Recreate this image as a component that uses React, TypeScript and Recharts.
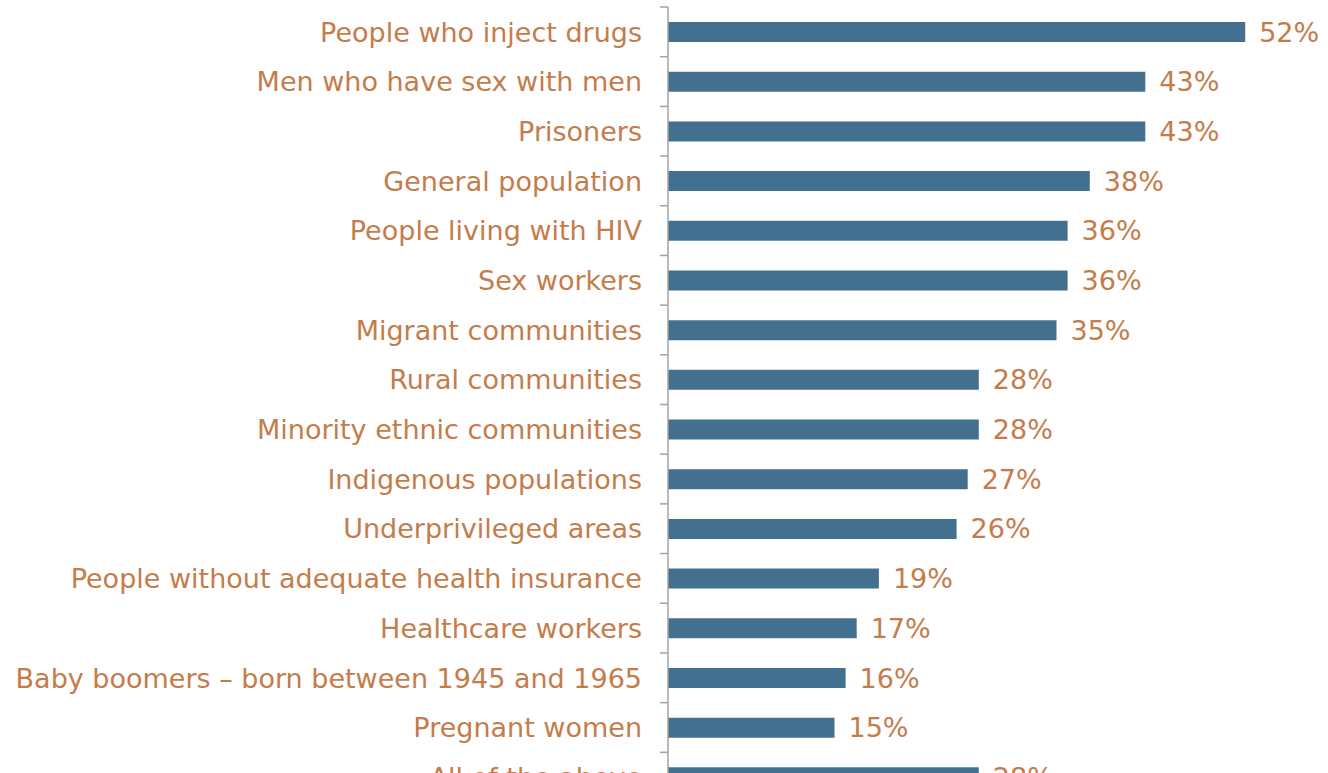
import { BarChart, Bar, XAxis, YAxis, LabelList } from "recharts"

const groups = [
  "People who inject drugs",
  "Men who have sex with men",
  "Prisoners",
  "General population",
  "People living with HIV",
  "Sex workers",
  "Migrant communities",
  "Rural communities",
  "Minority ethnic communities",
  "Indigenous populations",
  "Underprivileged areas",
  "People without adequate health insurance",
  "Healthcare workers",
  "Baby boomers – born between 1945 and 1965",
  "Pregnant women",
  "All of the above",
]

const shares = [52, 43, 43, 38, 36, 36, 35, 28, 28, 27, 26, 19, 17, 16, 15, 28]

const rows = groups.map((g, i) => ({ group: g, share: shares[i] }))

const TEXT = "#c57c4b"
const BAR = "#44708f"
const AXIS = "#a3a3a3"
const FONT = "'DejaVu Sans', Verdana, sans-serif"

const BAND = 795 / groups.length

function GroupTick(props: any) {
  const { x, y, payload } = props
  return (
    <g>
      <line x1={x + 18} x2={x + 26} y1={y - BAND / 2} y2={y - BAND / 2} stroke={AXIS} strokeWidth={1.5} />
      <text x={x} y={y} dy="0.36em" textAnchor="end" fill={TEXT} fontSize={27} fontFamily={FONT}>
        {payload.value}
      </text>
    </g>
  )
}

export default function App() {
  return (
    <div style={{ width: 1328, height: 810, background: "#fff" }}>
      <style>{`body{margin:0;overflow:hidden}`}</style>
      <BarChart
        width={1328}
        height={810}
        data={rows}
        layout="vertical"
        margin={{ top: 7, right: 49.5, bottom: 8, left: 0 }}
        barCategoryGap={0}
      >
        <XAxis type="number" domain={[0, 55]} hide />
        <YAxis
          type="category"
          dataKey="group"
          width={668}
          axisLine={{ stroke: AXIS, strokeWidth: 1.5 }}
          tickLine={false}
          tickSize={0}
          tickMargin={26}
          interval={0}
          tick={<GroupTick />}
        />
        <Bar dataKey="share" fill={BAR} barSize={20} isAnimationActive={false}>
          <LabelList
            dataKey="share"
            position="right"
            offset={14}
            formatter={(v: any) => `${v}%`}
            style={{ fill: TEXT, fontSize: 27, fontFamily: FONT }}
          />
        </Bar>
      </BarChart>
    </div>
  )
}
